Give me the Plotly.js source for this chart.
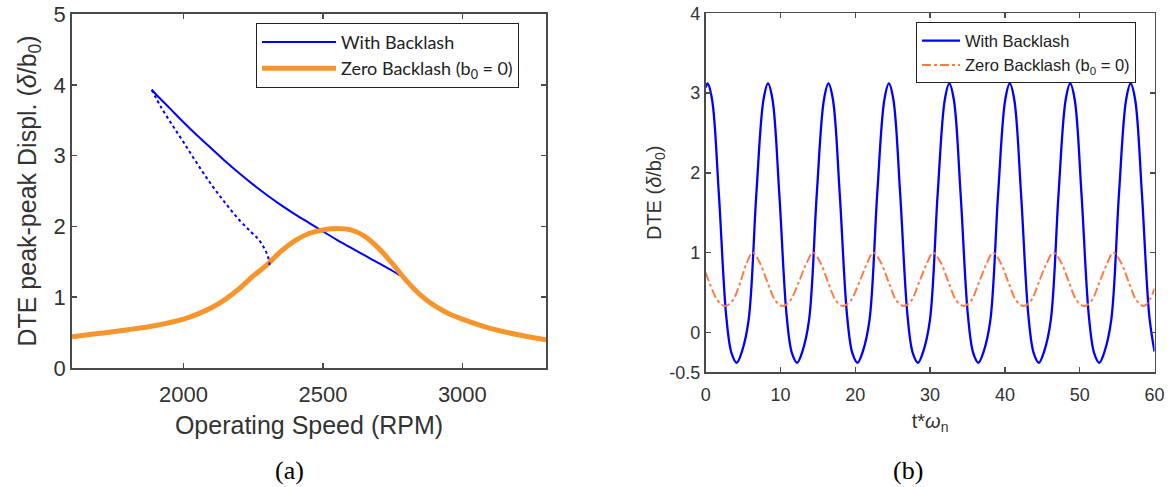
<!DOCTYPE html>
<html>
<head>
<meta charset="utf-8">
<script src="https://cdn.plot.ly/plotly-3.0.1.min.js"></script>
<style>html,body{margin:0;padding:0;background:#fff;}#chart{width:1176px;height:487px;}</style>
</head>
<body>
<div id="chart"></div>
<script>
// ---- Panel (a): peak-peak DTE vs operating speed ----
const speedZero = [1600, 1700, 1800, 1900, 2000, 2050, 2100, 2150, 2200, 2250, 2300, 2350, 2400, 2450, 2500, 2550, 2600, 2650, 2700, 2750, 2800, 2850, 2900, 2950, 3000, 3100, 3200, 3300];
const dteZero   = [0.44, 0.49, 0.54, 0.60, 0.69, 0.76, 0.85, 0.97, 1.12, 1.30, 1.46, 1.65, 1.80, 1.90, 1.95, 1.97, 1.95, 1.86, 1.69, 1.47, 1.23, 1.03, 0.88, 0.77, 0.69, 0.56, 0.47, 0.40];

const speedStable = [1886, 1900, 1950, 2000, 2050, 2100, 2150, 2200, 2250, 2300, 2350, 2400, 2450, 2500, 2550, 2600, 2650, 2700, 2750, 2775];
const dteStable   = [3.93, 3.87, 3.67, 3.47, 3.28, 3.10, 2.92, 2.75, 2.59, 2.44, 2.30, 2.17, 2.05, 1.93, 1.81, 1.70, 1.59, 1.48, 1.37, 1.31];

const speedUnstable = [1886, 1920, 1960, 2000, 2050, 2100, 2150, 2200, 2240, 2270, 2290, 2302, 2308, 2306];
const dteUnstable   = [3.93, 3.68, 3.43, 3.19, 2.88, 2.59, 2.33, 2.09, 1.93, 1.81, 1.69, 1.58, 1.48, 1.44];

// ---- Panel (b): DTE time history ----
const tBack = [0,
  0.25, 0.85, 1.75, 2.75, 3.45, 4.14, 4.84, 5.73, 6.78, 7.73,
  8.33, 8.93, 9.83, 10.83, 11.53, 12.22, 12.92, 13.81, 14.86, 15.81,
  16.41, 17.01, 17.91, 18.91, 19.61, 20.30, 21.00, 21.89, 22.94, 23.89,
  24.49, 25.09, 25.99, 26.99, 27.69, 28.38, 29.08, 29.97, 31.02, 31.97,
  32.57, 33.17, 34.07, 35.07, 35.77, 36.46, 37.16, 38.05, 39.10, 40.05,
  40.65, 41.25, 42.15, 43.15, 43.85, 44.54, 45.24, 46.13, 47.18, 48.13,
  48.73, 49.33, 50.23, 51.23, 51.93, 52.62, 53.32, 54.21, 55.26, 56.21,
  56.81, 57.41, 58.31, 59.31, 60];
const dteBack = [3.07,
  3.12, 2.92, 1.75, 0.20, -0.26, -0.38, -0.24, 0.15, 1.75, 2.92,
  3.12, 2.92, 1.75, 0.20, -0.26, -0.38, -0.24, 0.15, 1.75, 2.92,
  3.12, 2.92, 1.75, 0.20, -0.26, -0.38, -0.24, 0.15, 1.75, 2.92,
  3.12, 2.92, 1.75, 0.20, -0.26, -0.38, -0.24, 0.15, 1.75, 2.92,
  3.12, 2.92, 1.75, 0.20, -0.26, -0.38, -0.24, 0.15, 1.75, 2.92,
  3.12, 2.92, 1.75, 0.20, -0.26, -0.38, -0.24, 0.15, 1.75, 2.92,
  3.12, 2.92, 1.75, 0.20, -0.26, -0.38, -0.24, 0.15, 1.75, 2.92,
  3.12, 2.92, 1.75, 0.20, -0.24];

const tZero = [0, 0.6, 1.6, 2.6, 3.6, 4.6, 5.4, 6.3, 7.2, 8.3, 9.3, 10.3, 11.3, 12.4, 13.4, 14.35, 15.3, 16.4, 17.4, 18.4, 19.4, 20.5, 21.5, 22.4, 23.4, 24.5, 25.5, 26.5, 27.5, 28.5, 29.5, 30.4, 31.4, 32.5, 33.5, 34.5, 35.5, 36.5, 37.5, 38.4, 39.4, 40.5, 41.5, 42.5, 43.5, 44.5, 45.5, 46.5, 47.5, 48.6, 49.6, 50.6, 51.6, 52.6, 53.6, 54.5, 55.5, 56.6, 57.6, 58.6, 59.4, 60];
const dteZero2 = [0.75, 0.60, 0.40, 0.33, 0.40, 0.62, 0.85, 1.00, 0.88, 0.62, 0.40, 0.33, 0.40, 0.62, 0.85, 1.00, 0.88, 0.62, 0.40, 0.33, 0.40, 0.62, 0.85, 1.00, 0.88, 0.62, 0.40, 0.33, 0.40, 0.62, 0.85, 1.00, 0.88, 0.62, 0.40, 0.33, 0.40, 0.62, 0.85, 1.00, 0.88, 0.62, 0.40, 0.33, 0.40, 0.62, 0.85, 1.00, 0.88, 0.62, 0.40, 0.33, 0.40, 0.62, 0.85, 1.00, 0.88, 0.62, 0.40, 0.33, 0.42, 0.55];

const ticksA_x = [2000, 2500, 3000];
const ticksA_y = [0, 1, 2, 3, 4, 5];
const ticksB_x = [0, 10, 20, 30, 40, 50, 60];
const ticksB_y = [-0.5, 0, 1, 2, 3, 4];
const ticksB_ytext = ['-0.5', '0', '1', '2', '3', '4'];

const BLUE = '#0000ff';
const ORANGE = '#f7952d';
const CORAL = '#ff7a45';
const AX = '#4a4a4a';
const TXT = '#333333';
const SANS = '"Liberation Sans", Arial, sans-serif';

const traces = [
  {x: speedStable, y: dteStable, type: 'scatter', mode: 'lines', name: 'With Backlash',
   line: {color: BLUE, width: 2, shape: 'spline'}, xaxis: 'x', yaxis: 'y', legend: 'legend'},
  {x: speedZero, y: dteZero, type: 'scatter', mode: 'lines', name: 'Zero Backlash (b<sub>0</sub>&#8201;&#8201;=&#8201;&#8201;0)',
   line: {color: ORANGE, width: 5, shape: 'spline'}, xaxis: 'x', yaxis: 'y', legend: 'legend'},
  {x: speedUnstable, y: dteUnstable, type: 'scatter', mode: 'lines', name: 'unstable', showlegend: false,
   line: {color: BLUE, width: 2, dash: 'dot', shape: 'spline'}, xaxis: 'x', yaxis: 'y'},
  {x: tBack, y: dteBack, type: 'scatter', mode: 'lines', name: 'With Backlash',
   line: {color: BLUE, width: 2.3, shape: 'spline', smoothing: 1}, xaxis: 'x2', yaxis: 'y2', legend: 'legend2'},
  {x: tZero, y: dteZero2, type: 'scatter', mode: 'lines', name: 'Zero Backlash (b<sub>0</sub> = 0)',
   line: {color: CORAL, width: 2, dash: 'dashdot', shape: 'spline'}, xaxis: 'x2', yaxis: 'y2', legend: 'legend2'}
];

function axisBase(extra) {
  return Object.assign({
    showline: true, linecolor: AX, linewidth: 1.8, mirror: 'ticks',
    ticks: 'inside', ticklen: 5, tickwidth: 1.5, tickcolor: AX,
    showgrid: false, zeroline: false, fixedrange: true
  }, extra);
}

const layout = {
  width: 1176, height: 487,
  margin: {l: 0, r: 0, t: 0, b: 0},
  paper_bgcolor: '#ffffff', plot_bgcolor: '#ffffff',
  font: {family: SANS, color: TXT},
  xaxis: axisBase({domain: [72/1176, 546/1176], range: [1600, 3300], anchor: 'y',
    tickvals: ticksA_x, tickfont: {size: 22, color: TXT}, ticklabelstandoff: 6,
    title: {text: 'Operating Speed (RPM)', font: {size: 25, color: TXT}, standoff: 10}}),
  yaxis: axisBase({domain: [119/487, 473/487], range: [0, 5], anchor: 'x',
    tickvals: ticksA_y, tickfont: {size: 22, color: TXT},
    title: {text: 'DTE peak-peak Displ. (<i>δ</i>/b<sub>0</sub>)', font: {size: 25, color: TXT}, standoff: 10}}),
  xaxis2: axisBase({domain: [705.7/1176, 1154.5/1176], range: [0, 60], anchor: 'y2',
    tickvals: ticksB_x, tickfont: {size: 18, color: TXT}, ticklabelstandoff: 5,
    title: {text: 't*<i>ω</i><sub>n</sub>', font: {size: 20, color: TXT}, standoff: 10}}),
  yaxis2: axisBase({domain: [114.7/487, 473.7/487], range: [-0.5, 4], anchor: 'x2',
    tickvals: ticksB_y, ticktext: ticksB_ytext, tickfont: {size: 18, color: TXT},
    title: {text: 'DTE (<i>δ</i>/b<sub>0</sub>)', font: {size: 20, color: TXT}, standoff: 2}}),
  legend: {x: 256/1176, y: 1 - 22.7/487, xanchor: 'left', yanchor: 'top',
    bgcolor: '#ffffff', bordercolor: '#222222', borderwidth: 1,
    font: {family: 'Lato, "Open Sans", sans-serif', size: 18, color: '#222'}, itemwidth: 74, tracegroupgap: 2},
  legend2: {x: 916/1176, y: 1 - 22.3/487, xanchor: 'left', yanchor: 'top',
    bgcolor: '#ffffff', bordercolor: '#222222', borderwidth: 1,
    font: {family: SANS, size: 16.5, color: '#222'}, itemwidth: 38, tracegroupgap: 0},
  annotations: [
    {text: '(a)', xref: 'paper', yref: 'paper', x: 289/1176, y: 1 - 470/487, xanchor: 'center', yanchor: 'middle',
     showarrow: false, font: {family: '"Liberation Serif", "Times New Roman", serif', size: 26, color: '#000'}},
    {text: '(b)', xref: 'paper', yref: 'paper', x: 908/1176, y: 1 - 470/487, xanchor: 'center', yanchor: 'middle',
     showarrow: false, font: {family: '"Liberation Serif", "Times New Roman", serif', size: 26, color: '#000'}}
  ],
  showlegend: true
};

Plotly.newPlot('chart', traces, layout, {staticPlot: true, displayModeBar: false});
</script>
</body>
</html>
